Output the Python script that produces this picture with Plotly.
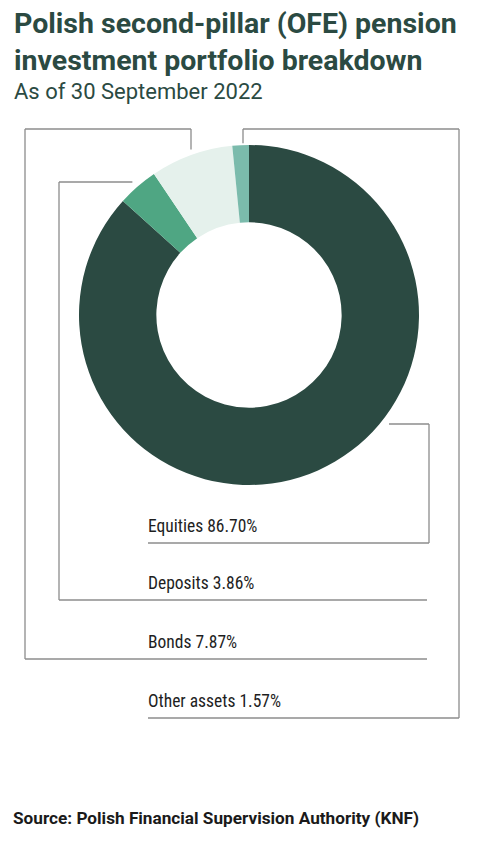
import math
import plotly.graph_objects as go

# ---- data ----
categories = ["Equities", "Deposits", "Bonds", "Other assets"]
values = [86.70, 3.86, 7.87, 1.57]
colors = ["#2b4a42", "#4fa683", "#e5f1ec", "#7bbbac"]

W, H = 480, 853
OFF = 8  # page body margin in the browser
CX, CY, R = 249, 315, 170


def px(x):
    return (x - OFF) / W


def py(y):
    return 1 - (y - OFF) / H


fig = go.Figure()
fig.add_trace(go.Pie(
    labels=categories, values=values, sort=False, direction="clockwise",
    rotation=0, hole=0.545, marker=dict(colors=colors, line=dict(width=0)),
    textinfo="none", hoverinfo="label+percent", showlegend=False,
    domain=dict(x=[px(CX - R), px(CX + R)], y=[py(CY + R), py(CY - R)]),
))

# attachment points from slice mid-angles (clockwise from 12 o'clock)
total = sum(values)
cum = 0
mids = []
for v in values:
    mids.append((cum + v / 2) / total * 360)
    cum += v


def attach(angle_deg, r):
    a = math.radians(angle_deg)
    return CX + r * math.sin(a), CY - r * math.cos(a)


label_x = 148
label_rows = [543, 600, 659, 718]
line_color = "#8c8c8c"
shapes = []


def seg(x0, y0, x1, y1):
    shapes.append(dict(type="line", xref="paper", yref="paper",
                       x0=px(x0), y0=py(y0), x1=px(x1), y1=py(y1),
                       line=dict(color=line_color, width=1.3)))


# Equities: horizontal from the ring edge on the lower right
eq_y = 424
seg(389, eq_y, 429, eq_y)
seg(429, eq_y, 429, label_rows[0])
seg(429, label_rows[0], label_x, label_rows[0])

# Deposits
dx, dy = attach(mids[1], 178)
seg(dx, 182, 59, 182)
seg(59, 182, 59, label_rows[1])
seg(59, label_rows[1], 427, label_rows[1])

# Bonds
bx, by = attach(mids[2], 176)
seg(191, by, 191, 129)
seg(191, 129, 25, 129)
seg(25, 129, 25, label_rows[2])
seg(25, label_rows[2], 427, label_rows[2])

# Other assets
ox, oy = attach(mids[3], 172)
seg(243, oy, 243, 129)
seg(243, 129, 459, 129)
seg(459, 129, 459, label_rows[3])
seg(459, label_rows[3], label_x, label_rows[3])

annotations = []
for cat, v, ry in zip(categories, values, label_rows):
    annotations.append(dict(
        text=f"{cat} {v:.2f}%", xref="paper", yref="paper",
        x=px(label_x - 2), y=py(ry - 5), xanchor="left", yanchor="bottom",
        showarrow=False,
        font=dict(family="Roboto Condensed, Liberation Sans Narrow, sans-serif",
                  size=17.5, color="#1e1e1e"),
    ))

title_font = "Roboto, Lato, sans-serif"
annotations.append(dict(
    text="<b>Polish second-pillar (OFE) pension<br>investment portfolio breakdown</b>",
    xref="paper", yref="paper", x=px(12), y=py(5), xanchor="left", yanchor="top",
    align="left", showarrow=False,
    font=dict(family=title_font, size=28.5, color="#2b4a42"),
))
annotations.append(dict(
    text="As of 30 September 2022",
    xref="paper", yref="paper", x=px(12), y=py(77), xanchor="left", yanchor="top",
    align="left", showarrow=False,
    font=dict(family=title_font, size=22, color="#2b4a42"),
))
annotations.append(dict(
    text="<b>Source: Polish Financial Supervision Authority (KNF)</b>",
    xref="paper", yref="paper", x=px(11), y=py(806), xanchor="left", yanchor="top",
    align="left", showarrow=False,
    font=dict(family=title_font, size=17.2, color="#1a1a1a"),
))

fig.update_layout(
    width=W, height=H, margin=dict(l=0, r=0, t=0, b=0),
    paper_bgcolor="white", plot_bgcolor="white",
    shapes=shapes, annotations=annotations,
)

fig.write_html("out.html")
